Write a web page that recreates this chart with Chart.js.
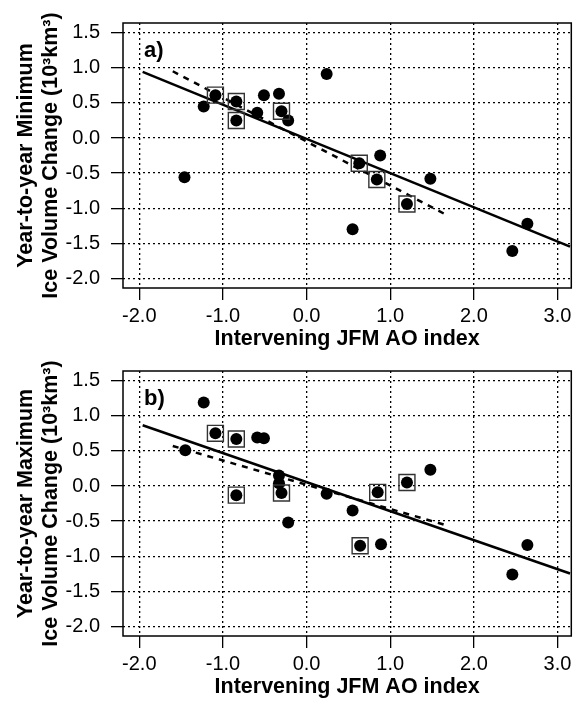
<!DOCTYPE html>
<html>
<head>
<meta charset="utf-8">
<script src="https://cdn.jsdelivr.net/npm/chart.js@4.4.1/dist/chart.umd.min.js"></script>
<style>
  body { margin: 0; background: #fff; width: 584px; height: 704px; position: relative; overflow: hidden; }
  .panel { position: absolute; left: 0; width: 584px; height: 352px; }
</style>
</head>
<body>
<div class="panel" style="top:0"><canvas id="chartA" width="584" height="352"></canvas></div>
<div class="panel" style="top:348px"><canvas id="chartB" width="584" height="352"></canvas></div>
<script>
const xTicks = [-2, -1, 0, 1, 2, 3];
const yTicks = [-2, -1.5, -1, -0.5, 0, 0.5, 1, 1.5];

// panel a) year-to-year minimum volume change vs JFM AO
const aoA = [-1.46, -1.23, -1.09, -0.84, -0.84, -0.59, -0.51, -0.33, -0.30, -0.22, 0.24, 0.63, 0.88, 0.84, 0.55, 1.20, 1.48, 2.64, 2.46];
const minChange = [-0.56, 0.45, 0.61, 0.52, 0.25, 0.36, 0.61, 0.63, 0.38, 0.25, 0.91, -0.36, -0.25, -0.59, -1.30, -0.94, -0.58, -1.22, -1.61];
const boxedA = [0, 0, 1, 1, 1, 0, 0, 0, 1, 0, 0, 1, 0, 1, 0, 1, 0, 0, 0];
const fitAX = [-1.96, 3.15], fitAY = [0.94, -1.545];
const dashAX = [-1.60, 1.64], dashAY = [0.95, -1.075];

// panel b) year-to-year maximum volume change vs JFM AO
const aoB = [-1.23, -1.09, -0.84, -1.45, -0.59, -0.51, -0.33, -0.33, -0.30, -0.84, -0.22, 0.24, 0.55, 0.85, 1.20, 1.48, 0.64, 0.89, 2.64, 2.46];
const maxChange = [1.19, 0.75, 0.67, 0.51, 0.69, 0.68, 0.15, 0.04, -0.10, -0.13, -0.52, -0.11, -0.35, -0.09, 0.05, 0.23, -0.85, -0.83, -0.84, -1.26];
const boxedB = [0, 1, 1, 0, 0, 0, 0, 0, 1, 1, 0, 0, 0, 1, 1, 0, 1, 0, 0, 0];
const fitBX = [-1.96, 3.15], fitBY = [0.865, -1.245];
const dashBX = [-1.60, 1.69], dashBY = [0.57, -0.565];

Chart.defaults.font.family = '"Liberation Sans", Arial, sans-serif';
Chart.defaults.color = '#000';

const pts = (xs, ys) => xs.map((x, i) => ({ x: x, y: ys[i] }));

// box round the plot and the panel letter
const framePlugin = {
  id: 'frame',
  afterDraw(chart, args, opts) {
    const a = chart.chartArea, ctx = chart.ctx;
    ctx.save();
    ctx.strokeStyle = '#000';
    ctx.lineWidth = 1.5;
    ctx.strokeRect(a.left, a.top, a.right - a.left, a.bottom - a.top);
    ctx.font = 'bold 22px "Liberation Sans", Arial, sans-serif';
    ctx.fillStyle = '#000';
    ctx.textBaseline = 'alphabetic';
    ctx.fillText(opts.label, a.left + 21, a.top + 34);
    ctx.restore();
  }
};

function makeChart(id, label, yTitle, xs, ys, boxed, fx, fy, dx, dy) {
  const grid = {
    color: '#000',
    lineWidth: 1.3,
    tickLength: 12,
    tickColor: '#000',
    tickWidth: 1.3,
    tickBorderDash: []
  };
  new Chart(document.getElementById(id), {
    type: 'scatter',
    data: {
      datasets: [
        {
          data: pts(xs, ys),
          pointRadius: 6,
          pointBackgroundColor: '#000',
          pointBorderWidth: 0,
          order: 1
        },
        {
          data: pts(xs, ys).filter((p, i) => boxed[i]),
          pointStyle: 'rect',
          pointRadius: 11.3,
          pointBackgroundColor: 'rgba(0,0,0,0)',
          pointBorderColor: '#333',
          pointBorderWidth: 1.4,
          order: 0
        },
        {
          type: 'line',
          data: pts(fx, fy),
          borderColor: '#000',
          borderWidth: 2.5,
          pointRadius: 0,
          order: 3
        },
        {
          type: 'line',
          data: pts(dx, dy),
          borderColor: '#000',
          borderWidth: 2.5,
          borderDash: [6, 6],
          pointRadius: 0,
          order: 2
        }
      ]
    },
    options: {
      responsive: false,
      animation: false,
      devicePixelRatio: 1,
      layout: { padding: { top: 19, right: 4, left: 0, bottom: 0 } },
      plugins: {
        legend: { display: false },
        tooltip: { enabled: false },
        frame: { label: label }
      },
      scales: {
        x: {
          type: 'linear',
          min: -2.195,
          max: 3.165,
          afterBuildTicks: s => { s.ticks = xTicks.map(v => ({ value: v })); },
          afterFit: s => { s.height = 64; },
          ticks: { callback: v => v.toFixed(1), font: { size: 20 }, padding: 4, maxRotation: 0 },
          grid: grid,
          border: { display: false, dash: [2, 3] },
          title: {
            display: true,
            text: 'Intervening JFM AO index',
            font: { size: 21.5, weight: 'bold', lineHeight: 1.2 },
            padding: { top: 0, bottom: 0 }
          }
        },
        y: {
          min: -2.135,
          max: 1.637,
          afterBuildTicks: s => { s.ticks = yTicks.map(v => ({ value: v })); },
          afterFit: s => { s.width = 123; },
          ticks: { callback: v => v.toFixed(1), font: { size: 20 }, padding: 11 },
          grid: grid,
          border: { display: false, dash: [2, 3] },
          title: {
            display: true,
            text: yTitle,
            font: { size: 21.5, weight: 'bold', lineHeight: 1.15 },
            padding: { top: 13.5, bottom: 0 }
          }
        }
      }
    },
    plugins: [framePlugin]
  });
}

makeChart('chartA', 'a)', ['Year-to-year Minimum', 'Ice Volume Change (10³km³)'],
  aoA, minChange, boxedA, fitAX, fitAY, dashAX, dashAY);
makeChart('chartB', 'b)', ['Year-to-year Maximum', 'Ice Volume Change (10³km³)'],
  aoB, maxChange, boxedB, fitBX, fitBY, dashBX, dashBY);
</script>
</body>
</html>
